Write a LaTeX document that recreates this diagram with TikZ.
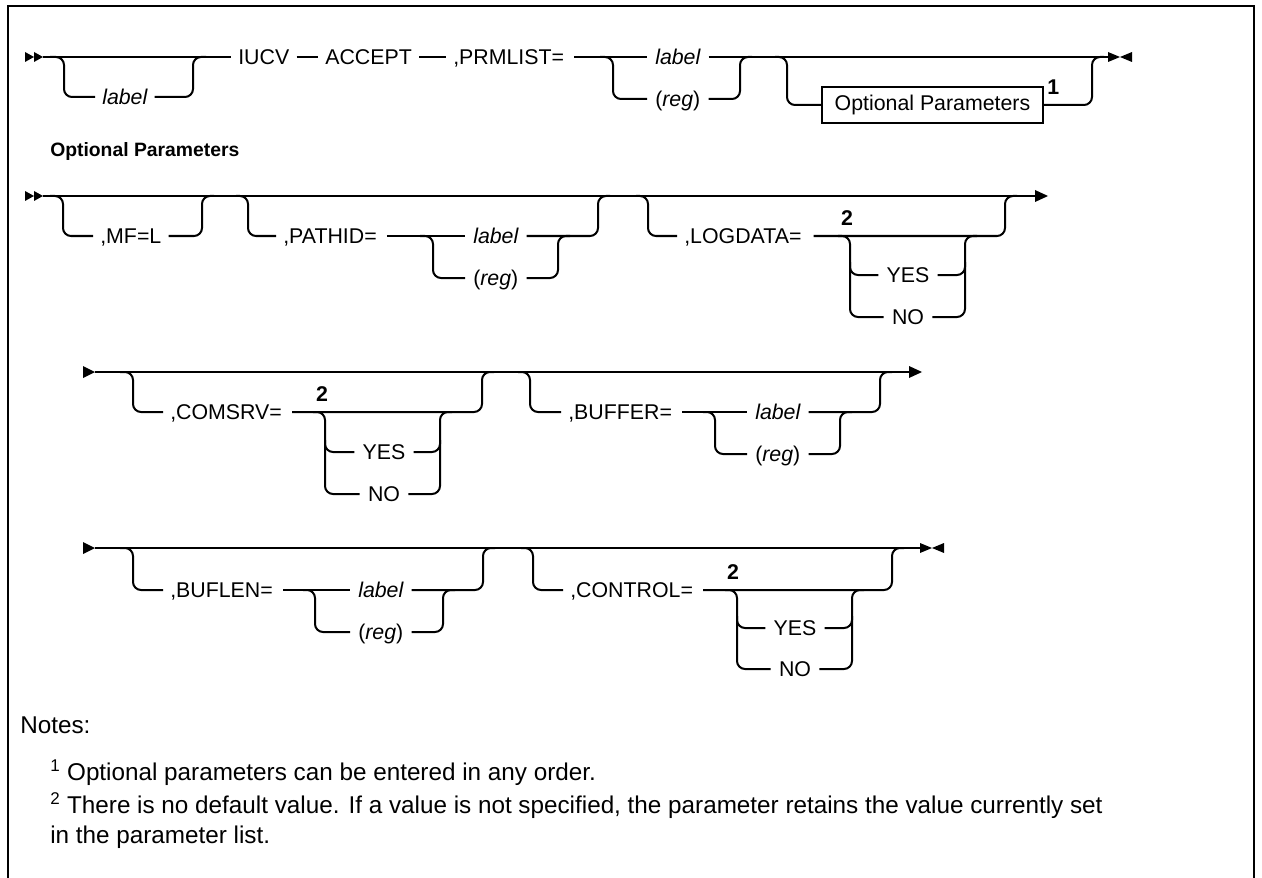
\documentclass[tikz,border=0pt]{standalone}
\usepackage{fontspec}
\setmainfont{Liberation Sans}
\usetikzlibrary{calc}
\newcommand\dgfont{\fontsize{16}{19}\selectfont}
\newcommand\hdfont{\fontsize{14.5}{17}\selectfont}
\newcommand\ntfont{\fontsize{18.2}{22}\selectfont}
\begin{document}
\begin{tikzpicture}[x=0.75pt,y=-0.75pt,
  ln/.style={line width=1.5pt},
  rc/.style={line width=1.5pt, rounded corners=6pt},
  kw/.style={anchor=west, inner sep=0pt, text height=11.5pt, text depth=0pt, font=\dgfont},
  var/.style={kw, font=\dgfont\itshape},
  fn/.style={anchor=base, inner sep=0pt, font=\dgfont\bfseries},
  note/.style={anchor=base west, inner sep=0pt, font=\ntfont}]
\useasboundingbox (0,0) rectangle (1262,877);
\draw[line width=1.5pt] (8,880) -- (8,6) -- (1254,6) -- (1254,880);

% ---------------- Row 1 ----------------
\fill (25,52) -- (34,57) -- (25,62) -- cycle;
\fill (34,52) -- (43,57) -- (34,62) -- cycle;
\node[var] (l1) at (102,97) {label};
\node[kw] (iucv) at (238,57) {IUCV};
\node[kw] (accept) at (325,57) {ACCEPT};
\node[kw] (prm) at (453,57) {,PRMLIST=};
\node[var] (l2) at (655,57) {label};
\node[kw] (r2) at (655,99) {(\textit{reg})};
\node[draw, line width=1.2pt, anchor=west, inner sep=0pt, minimum width=166pt, minimum height=27pt, font=\dgfont] (opt) at (821,105) {Optional Parameters};
\node[fn, anchor=base west] (n1) at (1047,95) {1};
\draw[ln] (43,57) -- ($(iucv.west)+(-7,0)$);
\draw[rc] (50,57) -- (64,57) -- (64,97) -- ($(l1.west)+(-7,0)$);
\draw[rc] ($(l1.east)+(7,0)$) -- (193,97) -- (193,57) -- (206,57);
\draw[ln] ($(iucv.east)+(7,0)$) -- ($(accept.west)+(-7,0)$);
\draw[ln] ($(accept.east)+(7,0)$) -- ($(prm.west)+(-7,0)$);
\draw[ln] ($(prm.east)+(10,0)$) -- ($(l2.west)+(-8,0)$);
\draw[rc] (600,57) -- (613,57) -- (613,99) -- ($(r2.west)+(-8,0)$);
\draw[ln] ($(l2.east)+(8,0)$) -- (1108,57);
\draw[rc] ($(r2.east)+(8,0)$) -- (740,99) -- (740,57) -- (752,57);
\draw[rc] (775,57) -- (787,57) -- (787,105) -- (opt.west);
\draw[rc] (opt.east) -- (1092,105) -- (1092,57) -- (1104,57);
\fill (1108,52) -- (1120,57) -- (1108,62) -- cycle;
\fill (1132,52) -- (1120,57) -- (1132,62) -- cycle;

\node[anchor=base west, inner sep=0pt, font=\hdfont\bfseries] (hdr) at (50,157) {Optional Parameters};

% ---------------- Row 2 ----------------
\fill (25,191) -- (34,196) -- (25,201) -- cycle;
\fill (34,191) -- (43,196) -- (34,201) -- cycle;
\draw[ln] (43,196) -- (1035,196);
\fill (1035,190) -- (1048,196) -- (1035,202) -- cycle;
\node[kw] (mfl) at (100,236) {,MF=L};
\draw[rc] (50,196) -- (63,196) -- (63,236) -- ($(mfl.west)+(-7,0)$);
\draw[rc] ($(mfl.east)+(7,0)$) -- (202,236) -- (202,196) -- (214,196);
\node[kw] (pathid) at (283,236) {,PATHID=};
\node[var] (l3) at (473,236) {label};
\node[kw] (r3) at (473,278) {(\textit{reg})};
\draw[rc] (236,196) -- (248,196) -- (248,236) -- ($(pathid.west)+(-7,0)$);
\draw[ln] ($(pathid.east)+(10,0)$) -- ($(l3.west)+(-8,0)$);
\draw[rc] (420,236) -- (433,236) -- (433,278) -- ($(r3.west)+(-8,0)$);
\draw[rc] ($(l3.east)+(8,0)$) -- (598,236) -- (598,196) -- (610,196);
\draw[rc] ($(r3.east)+(8,0)$) -- (558,278) -- (558,236) -- (570,236);
\node[kw] (logd) at (684,236) {,LOGDATA=};
\node[fn] (n2a) at (847,225) {2};
\node[kw, anchor=center] (yes1) at (908,275) {YES};
\node[kw, anchor=center] (no1) at (908,317) {NO};
\draw[rc] (636,196) -- (648,196) -- (648,236) -- ($(logd.west)+(-7,0)$);
\draw[rc] ($(logd.east)+(12,0)$) -- (1005,236) -- (1005,196) -- (1017,196);
\draw[rc] (838,236) -- (850,236) -- (850,317) -- ($(no1.west)+(-8,0)$);
\draw[rc] (850,262) -- (850,275) -- ($(yes1.west)+(-8,0)$);
\draw[rc] ($(no1.east)+(8,0)$) -- (965,317) -- (965,236) -- (977,236);
\draw[rc] ($(yes1.east)+(8,0)$) -- (965,275) -- (965,262);

% ---------------- Row 3 ----------------
\fill (83,366) -- (95,372) -- (83,378) -- cycle;
\draw[ln] (95,372) -- (909,372);
\fill (909,366) -- (922,372) -- (909,378) -- cycle;
\node[kw] (comsrv) at (170,412) {,COMSRV=};
\node[fn] (n2b) at (322,401) {2};
\node[kw, anchor=center] (yes2) at (384,452) {YES};
\node[kw, anchor=center] (no2) at (384,494) {NO};
\draw[rc] (120,372) -- (133,372) -- (133,412) -- ($(comsrv.west)+(-7,0)$);
\draw[rc] ($(comsrv.east)+(10,0)$) -- (482,412) -- (482,372) -- (494,372);
\draw[rc] (313,412) -- (325,412) -- (325,494) -- ($(no2.west)+(-8,0)$);
\draw[rc] (325,440) -- (325,452) -- ($(yes2.west)+(-8,0)$);
\draw[rc] ($(no2.east)+(8,0)$) -- (440,494) -- (440,412) -- (452,412);
\draw[rc] ($(yes2.east)+(8,0)$) -- (440,452) -- (440,440);
\node[kw] (buffer) at (568,412) {,BUFFER=};
\node[var] (l4) at (755,412) {label};
\node[kw] (r4) at (755,454) {(\textit{reg})};
\draw[rc] (518,372) -- (530,372) -- (530,412) -- ($(buffer.west)+(-7,0)$);
\draw[ln] ($(buffer.east)+(10,0)$) -- ($(l4.west)+(-8,0)$);
\draw[rc] (703,412) -- (715,412) -- (715,454) -- ($(r4.west)+(-8,0)$);
\draw[rc] ($(l4.east)+(8,0)$) -- (880,412) -- (880,372) -- (892,372);
\draw[rc] ($(r4.east)+(8,0)$) -- (840,454) -- (840,412) -- (852,412);

% ---------------- Row 4 ----------------
\fill (83,542) -- (95,548) -- (83,554) -- cycle;
\draw[ln] (95,548) -- (920,548);
\fill (920,543) -- (932,548) -- (920,553) -- cycle;
\fill (944,543) -- (932,548) -- (944,553) -- cycle;
\node[kw] (buflen) at (170,590) {,BUFLEN=};
\node[var] (l5) at (358,590) {label};
\node[kw] (r5) at (358,632) {(\textit{reg})};
\draw[rc] (120,548) -- (133,548) -- (133,590) -- ($(buflen.west)+(-7,0)$);
\draw[ln] ($(buflen.east)+(10,0)$) -- ($(l5.west)+(-8,0)$);
\draw[rc] (303,590) -- (315,590) -- (315,632) -- ($(r5.west)+(-8,0)$);
\draw[rc] ($(l5.east)+(8,0)$) -- (483,590) -- (483,548) -- (495,548);
\draw[rc] ($(r5.east)+(8,0)$) -- (443,632) -- (443,590) -- (455,590);
\node[kw] (control) at (570,590) {,CONTROL=};
\node[fn] (n2c) at (733,579) {2};
\node[kw, anchor=center] (yes3) at (795,628) {YES};
\node[kw, anchor=center] (no3) at (795,669) {NO};
\draw[rc] (521,548) -- (533,548) -- (533,590) -- ($(control.west)+(-7,0)$);
\draw[rc] ($(control.east)+(10,0)$) -- (892,590) -- (892,548) -- (904,548);
\draw[rc] (725,590) -- (737,590) -- (737,669) -- ($(no3.west)+(-8,0)$);
\draw[rc] (737,616) -- (737,628) -- ($(yes3.west)+(-8,0)$);
\draw[rc] ($(no3.east)+(8,0)$) -- (852,669) -- (852,590) -- (864,590);
\draw[rc] ($(yes3.east)+(8,0)$) -- (852,628) -- (852,616);

% ---------------- Notes ----------------
\node[note] (notes) at (20,733) {Notes:};
\node[note] (note1) at (50,780) {\textsuperscript{1} Optional parameters can be entered in any order.};
\node[note] (note2) at (50,813) {\textsuperscript{2} There is no default value. If a value is not specified, the parameter retains the value currently set};
\node[note] (note3) at (50,843) {in the parameter list.};
\end{tikzpicture}
\end{document}
